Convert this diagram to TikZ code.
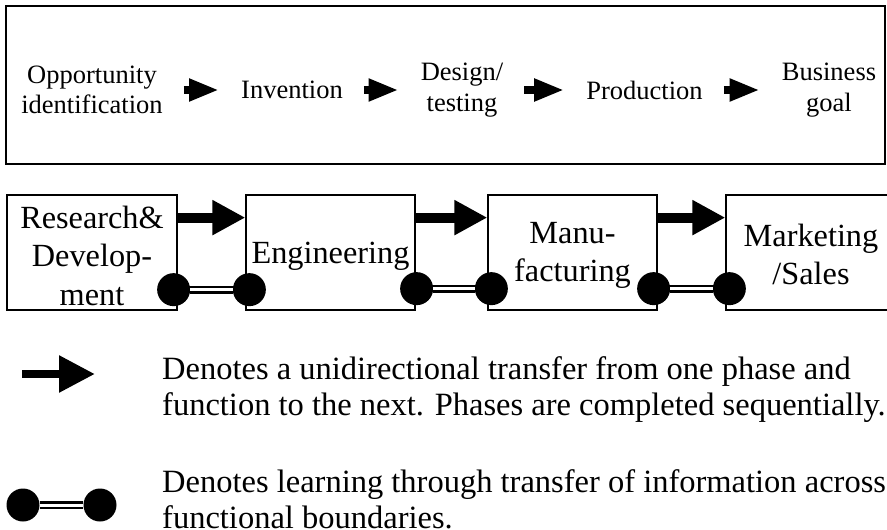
\documentclass[tikz,border=0pt]{standalone}
\usepackage{fontspec}
\setmainfont{Liberation Serif}
\usetikzlibrary{arrows.meta,calc}
\begin{document}
\begin{tikzpicture}[x=1pt,y=-1pt,
  toptext/.style={inner sep=0pt, align=center, font=\fontsize{26.5}{30.5}\selectfont},
  phasebox/.style={draw, line width=1.3pt, minimum height=115pt, inner sep=0pt},
  boxtext/.style={inner sep=0pt, align=center, font=\fontsize{32.3}{38.5}\selectfont},
  legtext/.style={inner sep=0pt, anchor=west, align=left, font=\fontsize{32.5}{36}\selectfont},
  topflow/.style={line width=7.5pt, -{Triangle[length=30pt,width=21pt]}, shorten <=21pt, shorten >=22pt},
  bigflow/.style={line width=10pt, -{Triangle[length=33pt,width=33pt]}},
  legflow/.style={line width=8.5pt, -{Triangle[length=36pt,width=35pt]}},
  dot/.style={circle, fill=black, minimum size=33pt, inner sep=0pt},
  dbl/.style={line width=2.5pt, double=white, double distance=3pt}
]
\useasboundingbox (0,0) rectangle (887,530);
\fill[white] (0,0) rectangle (887,530);

% top frame
\draw[line width=2pt] (6,6) rectangle (885,164);

% top row
\node[toptext] (opp) at (92,90) {Opportunity\\identification};
\node[toptext] (inv) at (292,90) {Invention};
\node[toptext] (des) at (462,90) {Design/\\testing};
\node[toptext] (prod) at (644.5,90) {Production};
\node[toptext] (bus) at (829,90) {Business\\goal};
\draw[topflow] (opp.east) -- (opp.east -| inv.west);
\draw[topflow] (inv.east) -- (inv.east -| des.west);
\draw[topflow] (des.east) -- (des.east -| prod.west);
\draw[topflow] (prod.east) -- (prod.east -| bus.west);

% phase boxes
\node[phasebox, minimum width=170pt] (rd) at (92,252.5) {};
\node[phasebox, minimum width=169pt] (eng) at (330.5,252.5) {};
\node[phasebox, minimum width=169pt] (man) at (572.5,252.5) {};
\node[phasebox, minimum width=170pt] (mkt) at (811,252.5) {};
\node[boxtext] (rdt) at ($(rd.center)+(0,3)$) {Research\&\\Develop-\\ment};
\node[boxtext] (engt) at ($(eng.center)+(0,4)$) {Engineering};
\node[boxtext] (mant) at ($(man.center)+(0,3)$) {Manu-\\facturing};
\node[boxtext] (mktt) at ($(mkt.center)+(0,2)$) {Marketing\\/Sales};

\draw[bigflow] ($(rd.north east)!0.2!(rd.south east)$) -- ($(eng.north west)!0.2!(eng.south west)$);
\draw[bigflow] ($(eng.north east)!0.2!(eng.south east)$) -- ($(man.north west)!0.2!(man.south west)$);
\draw[bigflow] ($(man.north east)!0.2!(man.south east)$) -- ($(mkt.north west)!0.2!(mkt.south west)$);

% learning links
\node[dot] (d1) at ($(rd.south east)+(-4,-21)$) {};
\node[dot] (d2) at ($(eng.south west)+(4,-21)$) {};
\node[dot] (d3) at ($(eng.south east)+(1,-22)$) {};
\node[dot] (d4) at ($(man.south west)+(4,-22)$) {};
\node[dot] (d5) at ($(man.south east)+(-4,-22)$) {};
\node[dot] (d6) at ($(mkt.south west)+(4,-22)$) {};
\draw[dbl] (d1) -- (d2);
\draw[dbl] (d3) -- (d4);
\draw[dbl] (d5) -- (d6);

% legend
\coordinate (la) at (22,374);
\coordinate (lb) at (95,374);
\draw[legflow] (la) -- (lb);
\node[legtext] (l1) at (162,390) {Denotes a unidirectional transfer from one phase and\\function to the next. Phases are completed sequentially.};
\node[dot] (e1) at (23,505) {};
\node[dot] (e2) at (100,505) {};
\draw[dbl] (e1) -- (e2);
\node[legtext] (l2) at (162,499) {Denotes learning through transfer of information across\\functional boundaries.};
\end{tikzpicture}
\end{document}
